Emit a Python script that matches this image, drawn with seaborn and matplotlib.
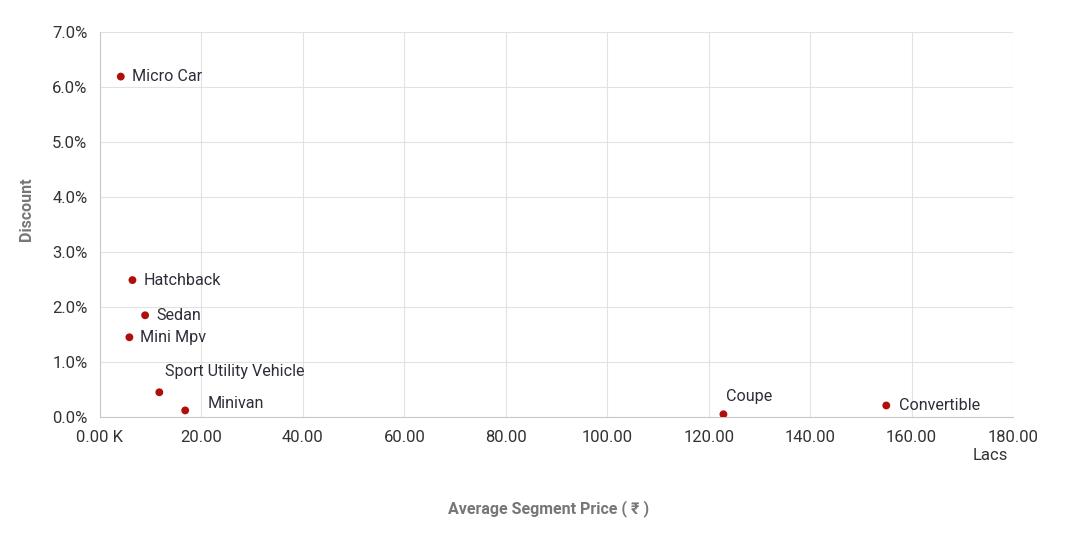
import pandas as pd
import seaborn as sns
import matplotlib.pyplot as plt
from matplotlib.ticker import FuncFormatter

# segment data, price in lacs and discount in percent
segments = ['Micro Car', 'Hatchback', 'Sedan', 'Mini Mpv', 'Sport Utility Vehicle',
            'Minivan', 'Coupe', 'Convertible']
price = [4.1, 6.4, 8.9, 5.8, 11.7, 16.8, 122.9, 155.0]
discount = [6.19, 2.49, 1.85, 1.45, 0.45, 0.12, 0.05, 0.21]

# label offsets (points) relative to each dot
offsets = [(8, 0), (8, 0), (8, 0), (8, 0), (4, 15), (16, 5), (2, 13), (9, 0)]

df = pd.DataFrame({'segment': segments, 'price': price, 'discount': discount})

sns.set_style('white')
plt.rcParams['font.family'] = ['Roboto', 'DejaVu Sans']

fig = plt.figure(figsize=(10.68, 5.43), dpi=100)
ax = fig.add_axes([0.0936, 0.232, 0.855, 0.709])

sns.scatterplot(data=df, x='price', y='discount', ax=ax, color='#b00d0d',
                s=32, edgecolor='none', zorder=3)

for seg, xv, yv, off in zip(segments, price, discount, offsets):
    ax.annotate(seg, (xv, yv), xytext=off, textcoords='offset points',
                ha='left', va='center', fontsize=11.6, color='#2e2e3a')

ax.set_xlim(0, 180)
ax.set_ylim(0, 7)
ax.set_xticks(range(0, 181, 20))
ax.set_yticks(range(0, 8))
ax.xaxis.set_major_formatter(FuncFormatter(lambda v, p: '0.00 K' if v == 0 else f'{v:.2f}'))
ax.yaxis.set_major_formatter(FuncFormatter(lambda v, p: f'{v:.1f}%'))

ax.grid(True, color='#e2e2e2', linewidth=0.8)
ax.set_axisbelow(True)
for side in ['top', 'right']:
    ax.spines[side].set_visible(False)
for side in ['left', 'bottom']:
    ax.spines[side].set_color('#c8c8c8')
ax.tick_params(axis='both', length=5, color='#c8c8c8', labelsize=12,
               labelcolor='#333333', pad=4)

ax.set_xlabel('')
ax.set_ylabel('')
fig.text(0.025, 0.615, 'Discount', rotation=90, ha='center', va='center',
         fontsize=11.5, fontweight='bold', color='#777777')
fig.text(0.514, 0.064, 'Average Segment Price ( ₹ )', ha='center', va='center',
         fontsize=11.5, fontweight='bold', color='#777777')
fig.text(0.927, 0.161, 'Lacs', ha='center', va='center', fontsize=12, color='#333333')

fig.savefig('out.png', dpi=100)
